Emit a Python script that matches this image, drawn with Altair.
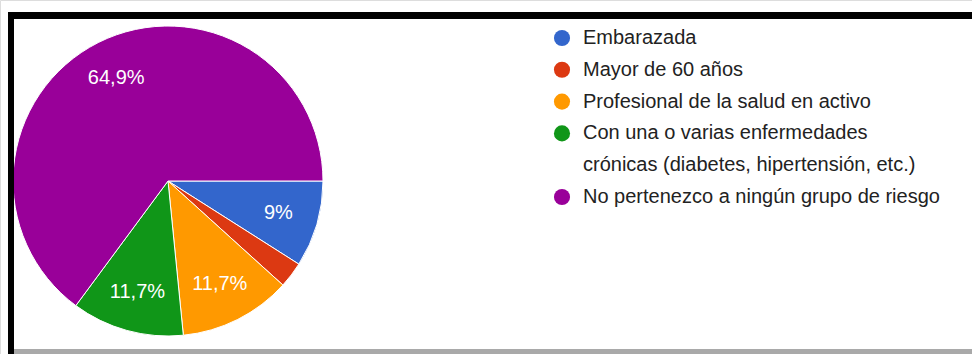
import math
import altair as alt
import pandas as pd

categories = [
    "Embarazada",
    "Mayor de 60 años",
    "Profesional de la salud en activo",
    "Con una o varias enfermedades crónicas (diabetes, hipertensión, etc.)",
    "No pertenezco a ningún grupo de riesgo",
]
counts = [10, 3, 13, 13, 72]
pct_labels = ["9%", "", "11,7%", "11,7%", "64,9%"]
colors = ["#3366CC", "#DC3912", "#FF9900", "#109618", "#990099"]

legend_lines = [
    "Embarazada",
    "Mayor de 60 años",
    "Profesional de la salud en activo",
    "Con una o varias enfermedades",
    "crónicas (diabetes, hipertensión, etc.)",
    "No pertenezco a ningún grupo de riesgo",
]
legend_line_cat = [categories[0], categories[1], categories[2], categories[3], None, categories[4]]

pie_df = pd.DataFrame({
    "cat": categories,
    "n": counts,
    "lab": pct_labels,
    "idx": list(range(len(categories))),
})
leg_df = pd.DataFrame({
    "row": list(range(len(legend_lines))),
    "txt": legend_lines,
    "cat": legend_line_cat,
})
leg_sym = leg_df.dropna()

FONT = "Liberation Sans"
color_scale = alt.Scale(domain=categories, range=colors)
theta_scale = alt.Scale(range=[math.pi / 2, math.pi / 2 + 2 * math.pi])
CX, CY = 168, 181

arcs = alt.Chart(pie_df).mark_arc(radius=155, stroke="white", strokeWidth=1).encode(
    theta=alt.Theta("n:Q", stack=True, scale=theta_scale),
    color=alt.Color("cat:N", scale=color_scale, legend=None),
    order=alt.Order("idx:Q"),
    x=alt.value(CX),
    y=alt.value(CY),
)

labels = alt.Chart(pie_df).mark_text(
    radius=115, font=FONT, fontSize=20, color="white", align="center", baseline="middle"
).encode(
    theta=alt.Theta("n:Q", stack=True, scale=theta_scale),
    order=alt.Order("idx:Q"),
    text="lab:N",
    x=alt.value(CX),
    y=alt.value(CY),
)

yscale = alt.Scale(type="point", domain=list(range(len(legend_lines))), range=[38, 197], padding=0)

leg_points = alt.Chart(leg_sym).mark_point(filled=True, shape="circle", size=260, opacity=1).encode(
    x=alt.value(562),
    y=alt.Y("row:O", scale=yscale, axis=None),
    color=alt.Color("cat:N", scale=color_scale, legend=None),
)
leg_text = alt.Chart(leg_df).mark_text(
    font=FONT, fontSize=20, color="#222222", align="left", baseline="middle"
).encode(
    x=alt.value(583),
    y=alt.Y("row:O", scale=yscale, axis=None),
    text="txt:N",
)

top_bar = alt.Chart(pie_df).mark_rule(color="black", strokeWidth=7).encode(
    x=alt.value(8), x2=alt.value(972), y=alt.value(15.5)
)
left_bar = alt.Chart(pie_df).mark_rule(color="black", strokeWidth=6).encode(
    x=alt.value(11), y=alt.value(12), y2=alt.value(354)
)
bottom_bar = alt.Chart(pie_df).mark_rule(color="#a9a9a9", strokeWidth=5).encode(
    x=alt.value(14), x2=alt.value(972), y=alt.value(351.5)
)

chart = alt.layer(arcs, labels, leg_points, leg_text, top_bar, left_bar, bottom_bar).properties(
    width=972, height=354, padding=0, autosize=alt.AutoSizeParams(type="none")
).configure_view(stroke=None).configure(background="white")

chart.save("out.html", embed_options={"renderer": "svg", "actions": False})
